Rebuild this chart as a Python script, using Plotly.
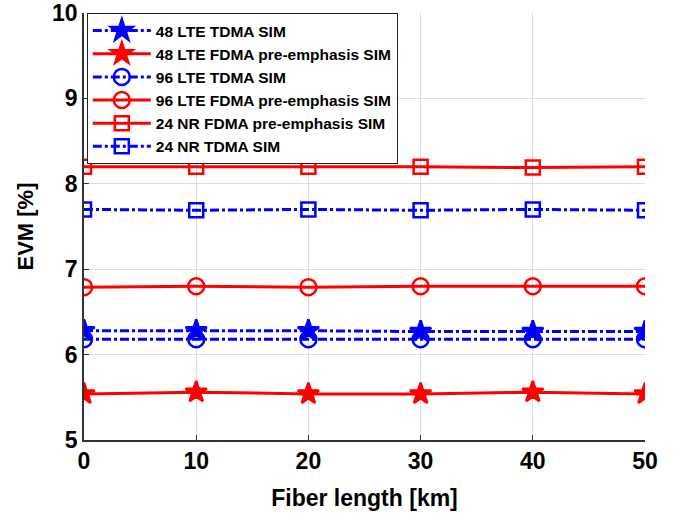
import plotly.graph_objects as go

fiber_km = [0, 10, 20, 30, 40, 50]
lte48_tdma = [6.28, 6.28, 6.28, 6.27, 6.27, 6.27]
lte48_fdma = [5.54, 5.56, 5.54, 5.54, 5.56, 5.54]
lte96_tdma = [6.18, 6.18, 6.18, 6.18, 6.18, 6.18]
lte96_fdma = [6.79, 6.80, 6.79, 6.80, 6.80, 6.80]
nr24_fdma = [8.20, 8.20, 8.20, 8.20, 8.19, 8.20]
nr24_tdma = [7.70, 7.69, 7.70, 7.69, 7.70, 7.69]
x_ticks = [0, 10, 20, 30, 40, 50]
y_ticks = [5, 6, 7, 8, 9, 10]

names = ["48 LTE TDMA SIM", "48 LTE FDMA pre-emphasis SIM", "96 LTE TDMA SIM",
         "96 LTE FDMA pre-emphasis SIM", "24 NR FDMA pre-emphasis SIM", "24 NR TDMA SIM"]
series = [lte48_tdma, lte48_fdma, lte96_tdma, lte96_fdma, nr24_fdma, nr24_tdma]
colors = ["#0000FF", "#FF0000", "#0000FF", "#FF0000", "#FF0000", "#0000FF"]
dashes = ["dashdot", "solid", "dashdot", "solid", "solid", "dashdot"]
symbols = ["star", "star", "circle-open", "circle-open", "square-open", "square-open"]
sizes = [16, 16, 16, 16, 14, 14]

fig = go.Figure()
for n, s, c, d, sym, sz in zip(names, series, colors, dashes, symbols, sizes):
    fig.add_trace(go.Scatter(
        x=fiber_km, y=s, name=n, mode="lines+markers",
        line=dict(color=c, width=3, dash=d),
        marker=dict(symbol=sym, size=sz, color=c, line=dict(color=c, width=2.5)),
    ))

fnt = "Liberation Sans, Arial, sans-serif"
fig.update_layout(
    width=675, height=518,
    margin=dict(l=84, r=30, t=13, b=78),
    plot_bgcolor="white", paper_bgcolor="white",
    font=dict(family=fnt, color="black"),
    showlegend=True,
    legend=dict(x=0.005, y=1.0, xanchor="left", yanchor="top",
                bgcolor="white", bordercolor="#222222", borderwidth=1,
                font=dict(family=fnt, size=15.5, weight="bold", color="black"),
                tracegroupgap=0, itemwidth=58),
)
fig.update_xaxes(
    range=[0, 50], tickvals=x_ticks,
    showgrid=True, gridcolor="#DDDDDD", gridwidth=1,
    showline=True, linecolor="#333333", linewidth=1.5,
    ticks="inside", ticklen=5, tickcolor="#333333",
    tickfont=dict(family=fnt, size=23, weight="bold"),
    title=dict(text="Fiber length [km]", font=dict(family=fnt, size=23, weight="bold"), standoff=17),
    zeroline=False, mirror=False, automargin=False, ticklabeloverflow="allow",
)
fig.update_yaxes(
    range=[5, 10], tickvals=y_ticks,
    showgrid=True, gridcolor="#DDDDDD", gridwidth=1,
    showline=True, linecolor="#333333", linewidth=1.5,
    ticks="inside", ticklen=5, tickcolor="#333333",
    tickfont=dict(family=fnt, size=23, weight="bold"),
    title=dict(text="EVM [%]", font=dict(family=fnt, size=22, weight="bold"), standoff=12),
    zeroline=False, mirror=False, automargin=False, ticklabeloverflow="allow",
)
fig.write_html("out.html", config={"displayModeBar": False},
               post_script="document.body.style.margin='0';")
